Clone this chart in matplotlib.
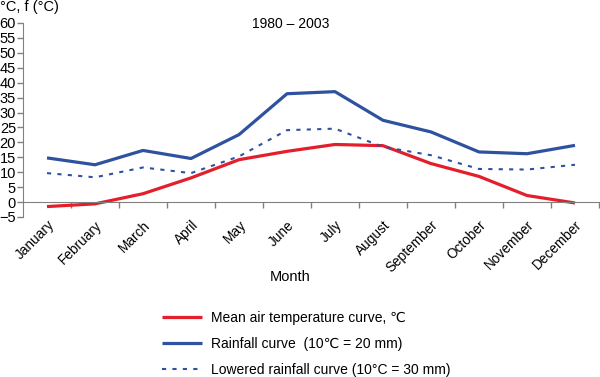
import numpy as np
import matplotlib
matplotlib.use("Agg")
from matplotlib import pyplot as plt
from matplotlib import transforms

plt.rcParams['font.family'] = ['Liberation Sans', 'DejaVu Sans']

# values
months = ["January", "February", "March", "April", "May", "June", "July",
          "August", "September", "October", "November", "December"]
temperature = [-1.5, -0.6, 2.8, 8.1, 14.2, 17.0, 19.3, 18.9, 12.9, 8.6, 2.2, -0.3]
rainfall = [14.8, 12.5, 17.3, 14.6, 22.6, 36.3, 37.0, 27.4, 23.5, 16.8, 16.2, 19.0]
rainfall_low = [9.7, 8.3, 11.6, 9.7, 15.3, 24.1, 24.6, 18.5, 15.7, 11.1, 10.9, 12.5]
y_ticks = list(range(-5, 61, 5))

red = "#e41e2b"
blue = "#2f52a0"
grey = "#808080"

fig = plt.figure(figsize=(6.0, 3.77), dpi=100)
ax = fig.add_axes([23 / 600, 1 - 217 / 377, 576 / 600, 194 / 377])

x = np.arange(len(months))
ax.plot(x, temperature, color=red, lw=2.3, solid_capstyle='butt',
        label="Mean air temperature curve, \u2103")
ax.plot(x, rainfall, color=blue, lw=2.3, solid_capstyle='butt',
        label="Rainfall curve  (10\u2103 = 20 mm)")
ax.plot(x, rainfall_low, color=blue, lw=1.5, linestyle=(0, (2, 3)),
        label="Lowered rainfall curve (10\u00b0C = 30 mm)")

ax.set_xlim(-0.5, 11.5)
ax.set_ylim(-5, 60)

for side in ("top", "right"):
    ax.spines[side].set_visible(False)
ax.spines["bottom"].set_position(("data", 0))
ax.spines["bottom"].set_color(grey)
ax.spines["left"].set_color(grey)

ax.set_yticks(y_ticks)
ax.tick_params(axis="y", direction="out", length=4, width=1, color=grey,
               pad=1, labelsize=10.5)

ax.set_xticks(x)
ax.set_xticks(np.arange(0.5, 12, 1), minor=True)
ax.tick_params(axis="x", which="major", length=0, pad=15, labelsize=9.8)
ax.tick_params(axis="x", which="minor", direction="out", length=4,
               width=1, color=grey)
ax.set_xticklabels(months, rotation=45, ha="right", va="center",
                   rotation_mode="anchor")
shift = transforms.ScaledTranslation(5 / 100, 0, fig.dpi_scale_trans)
for lab in ax.get_xticklabels():
    lab.set_transform(lab.get_transform() + shift)

fig.text(290 / 600, 1 - 277 / 377, "Month", ha="center", va="center",
         fontsize=10.5)
fig.text(291 / 600, 1 - 23.5 / 377, "1980 \u2013 2003", ha="center",
         va="center", fontsize=10)
fig.text(0.0, 1 - 7 / 377, "\u00b0C, f (\u00b0C)", ha="left", va="center",
         fontsize=10.5)

fig.legend(loc="upper left", bbox_to_anchor=(162 / 600, 1 - 311 / 377),
           frameon=False, fontsize=10, borderpad=0, borderaxespad=0,
           handlelength=2.9, handletextpad=0.6, labelspacing=0.85)

fig.savefig("out.png", dpi=100)
